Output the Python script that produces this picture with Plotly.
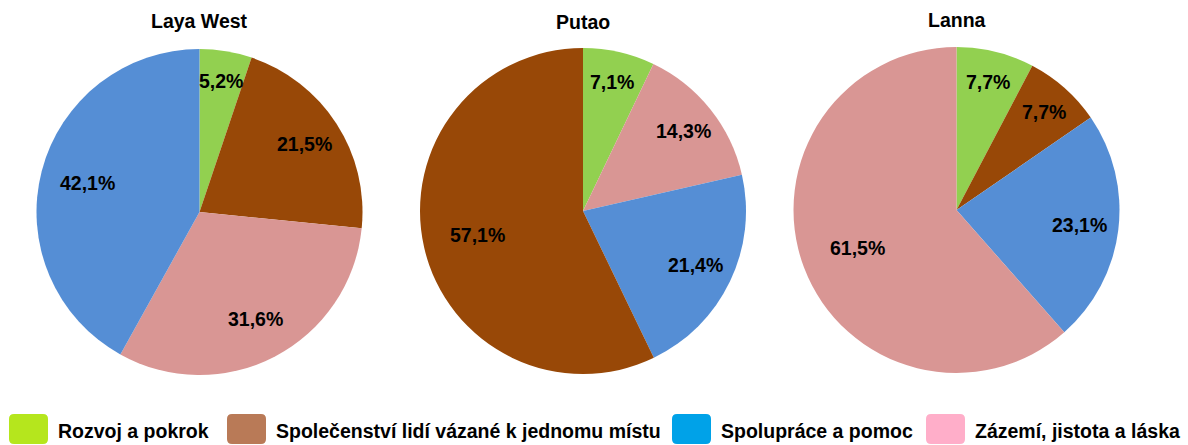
import math
import plotly.graph_objects as go

# ---------------- data ----------------
categories = [
    "Rozvoj a pokrok",
    "Společenství lidí vázané k jednomu místu",
    "Spolupráce a pomoc",
    "Zázemí, jistota a láska",
]
titles = ["Laya West", "Putao", "Lanna"]

laya_labels = [categories[0], categories[1], categories[3], categories[2]]
laya_values = [5.2, 21.5, 31.6, 42.1]

putao_labels = [categories[0], categories[3], categories[2], categories[1]]
putao_values = [7.1, 14.3, 21.4, 57.1]

lanna_labels = [categories[0], categories[1], categories[2], categories[3]]
lanna_values = [7.7, 7.7, 23.1, 61.5]

# ---------------- styles ----------------
pie_colors = {
    categories[0]: "#92D050",
    categories[1]: "#984807",
    categories[2]: "#558ED5",
    categories[3]: "#D99694",
}
legend_colors = {
    categories[0]: "#B5E61D",
    categories[1]: "#B97A57",
    categories[2]: "#00A2E8",
    categories[3]: "#FFAEC9",
}

W, H = 1188, 445
FONT = "Liberation Sans, Arial, sans-serif"

# pie geometry in pixels: (center x, center y, radius)
geoms = [(199.5, 212.0, 163.0), (583.0, 211.0, 163.0), (956.5, 210.0, 163.0)]
title_y = [21, 22, 20]

pies = [(laya_labels, laya_values), (putao_labels, putao_values), (lanna_labels, lanna_values)]

fig = go.Figure()
annotations = []

for (labels, values), (cx, cy, r), title, ty in zip(pies, geoms, titles, title_y):
    fig.add_trace(go.Pie(
        labels=labels,
        values=values,
        sort=False,
        direction="clockwise",
        rotation=0,
        textinfo="none",
        hoverinfo="label+value",
        showlegend=False,
        marker=dict(colors=[pie_colors[l] for l in labels], line=dict(width=0)),
        domain=dict(x=[(cx - r) / W, (cx + r) / W], y=[1 - (cy + r) / H, 1 - (cy - r) / H]),
    ))
    # title
    annotations.append(dict(
        x=cx / W, y=1 - ty / H, xref="paper", yref="paper",
        text=f"<b>{title}</b>", showarrow=False,
        xanchor="center", yanchor="middle",
        font=dict(family=FONT, size=19.5, color="#000000"),
    ))
    # percentage labels derived from the values
    total = sum(values)
    cum = 0.0
    for v in values:
        frac = v / total
        mid = (cum + frac / 2) * 2 * math.pi
        cum += frac
        rf = 0.83 - 0.29 * frac
        px = cx + rf * r * math.sin(mid)
        py = cy - rf * r * math.cos(mid)
        annotations.append(dict(
            x=px / W, y=1 - py / H, xref="paper", yref="paper",
            text="<b>" + f"{v:.1f}".replace(".", ",") + "%</b>",
            showarrow=False, xanchor="center", yanchor="middle",
            font=dict(family=FONT, size=19.5, color="#000000"),
        ))

# ---------------- custom legend ----------------
shapes = []
box_x = [9, 227, 672, 926]
box_w, box_top, box_bot, rad = 39, 414, 444, 5


def rounded_rect(x0, y0, x1, y1, rr):
    def px(x):
        return x / W

    def py(y):
        return 1 - y / H

    return (
        f"M {px(x0 + rr)},{py(y0)} L {px(x1 - rr)},{py(y0)} "
        f"Q {px(x1)},{py(y0)} {px(x1)},{py(y0 + rr)} "
        f"L {px(x1)},{py(y1 - rr)} Q {px(x1)},{py(y1)} {px(x1 - rr)},{py(y1)} "
        f"L {px(x0 + rr)},{py(y1)} Q {px(x0)},{py(y1)} {px(x0)},{py(y1 - rr)} "
        f"L {px(x0)},{py(y0 + rr)} Q {px(x0)},{py(y0)} {px(x0 + rr)},{py(y0)} Z"
    )


for cat, bx in zip(categories, box_x):
    shapes.append(dict(
        type="path", xref="paper", yref="paper",
        path=rounded_rect(bx, box_top, bx + box_w, box_bot, rad),
        fillcolor=legend_colors[cat], line=dict(width=0),
    ))
    annotations.append(dict(
        x=(bx + box_w + 8) / W, y=1 - 431 / H, xref="paper", yref="paper",
        text=f"<b>{cat}</b>", showarrow=False,
        xanchor="left", yanchor="middle",
        font=dict(family=FONT, size=19.5, color="#000000"),
    ))

fig.update_layout(
    width=W, height=H,
    margin=dict(l=0, r=0, t=0, b=0),
    paper_bgcolor="#FFFFFF",
    plot_bgcolor="#FFFFFF",
    annotations=annotations,
    shapes=shapes,
    separators=", ",
)

fig.write_html(
    "out.html",
    config={"displayModeBar": False},
    post_script="document.body.style.margin='0';document.body.style.overflow='hidden';",
)
